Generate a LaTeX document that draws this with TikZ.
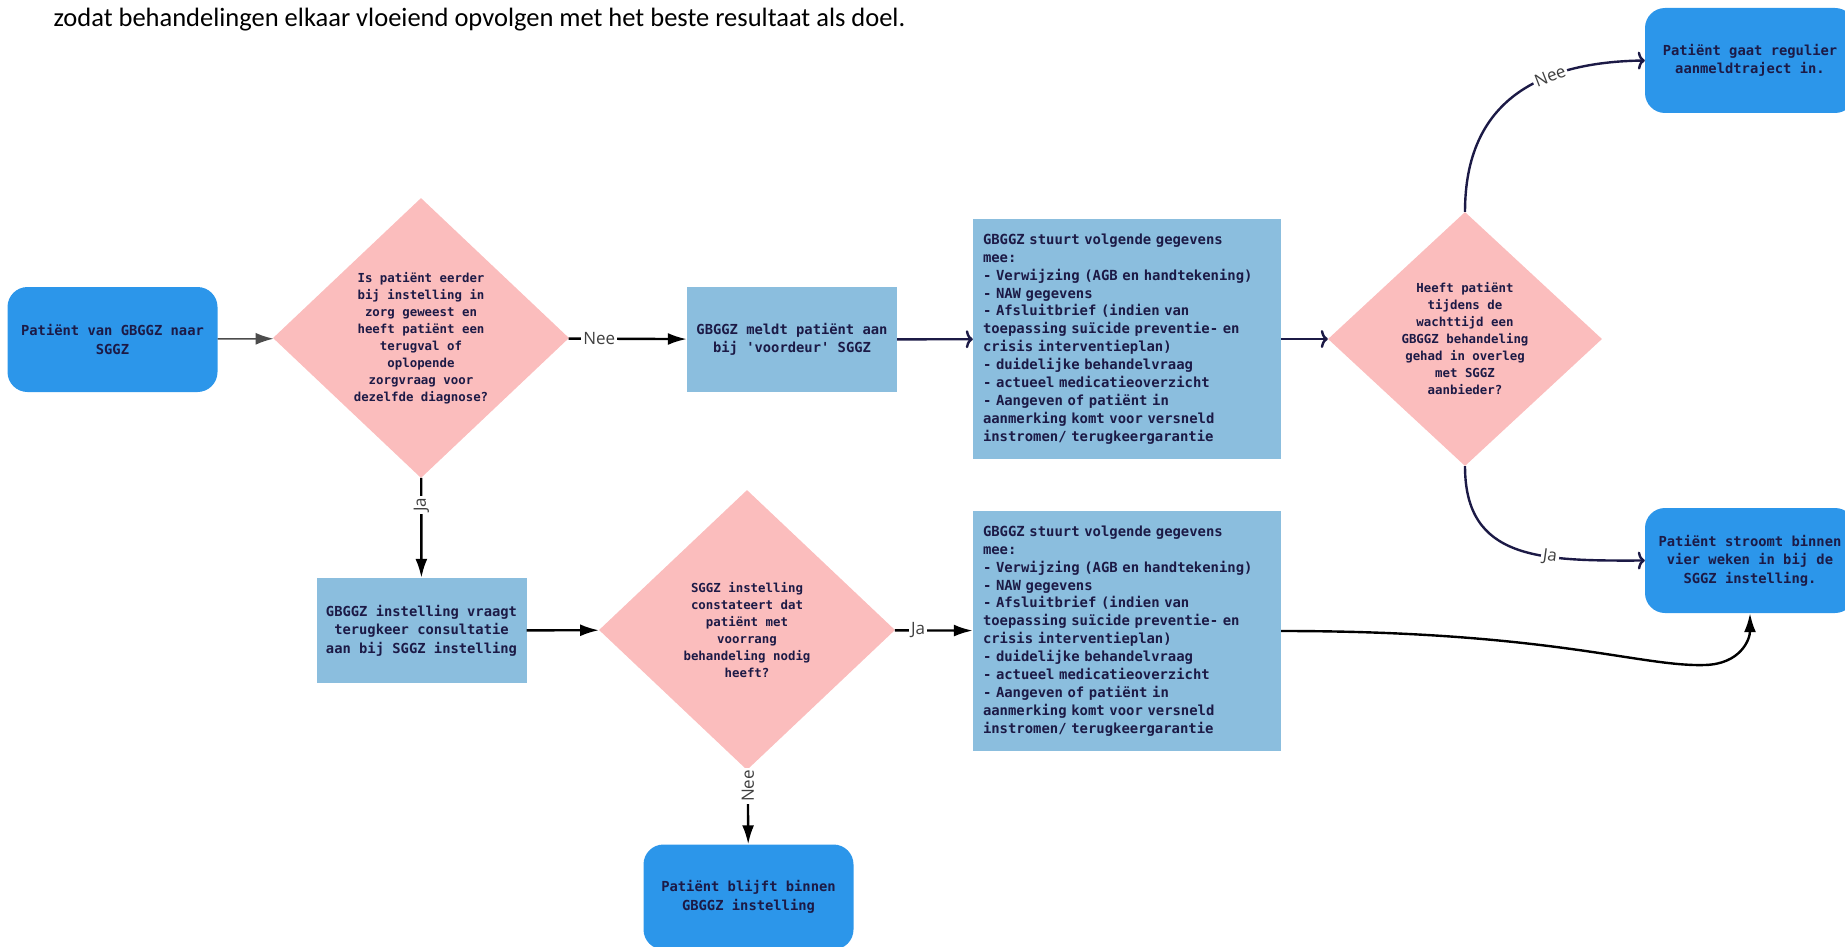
\documentclass[tikz,border=0pt]{standalone}
\usepackage{fontspec}
\setmainfont{Carlito}
\setmonofont{DejaVu Sans Mono}
\newfontfamily\labelfont{Open Sans}
\usetikzlibrary{shapes.geometric, arrows.meta}
\definecolor{navy}{RGB}{28,26,70}
\definecolor{boxblue}{RGB}{44,150,234}
\definecolor{lightblue}{RGB}{139,190,222}
\definecolor{pinkish}{RGB}{251,189,189}
\definecolor{labelgray}{RGB}{64,64,64}
\newcommand{\gegevenslijst}{GBGGZ stuurt volgende gegevens\\mee:\\- Verwijzing (AGB en handtekening)\\- NAW gegevens\\- Afsluitbrief (indien van\\toepassing suïcide preventie- en\\crisis interventieplan)\\- duidelijke behandelvraag\\- actueel medicatieoverzicht\\- Aangeven of patiënt in\\aanmerking komt voor versneld\\instromen/ terugkeergarantie}
\tikzset{
  boxtext/.style={font=\fontsize{13.8}{18.5}\selectfont\ttfamily\bfseries, text=navy},
  endbox/.style={rectangle, rounded corners=20pt, fill=boxblue, boxtext, align=center, minimum width=210pt, minimum height=105pt, inner sep=0pt},
  stepbox/.style={rectangle, fill=lightblue, boxtext, align=center, minimum width=210pt, minimum height=105pt, inner sep=0pt},
  listbox/.style={rectangle, fill=lightblue, boxtext, font=\fontsize{13.9}{17.9}\selectfont\ttfamily\bfseries, align=left, text width=288pt, inner xsep=10pt, minimum height=240pt},
  choice/.style={diamond, fill=pinkish, inner sep=0pt, align=center, text=navy, font=\fontsize{12.4}{17}\selectfont\ttfamily\bfseries},
  lbl/.style={fill=white, inner sep=2pt, text=labelgray, font=\fontsize{17}{17}\selectfont\labelfont},
  blackarrow/.style={-{Latex[length=19pt,width=12pt]}, line width=2.4pt, black},
  navyarrow/.style={-{To[length=7pt,width=18pt]}, line width=2.4pt, navy},
}
\begin{document}
\begin{tikzpicture}[x=1pt, y=-1pt]
\useasboundingbox (0,0) rectangle (1845,947);
\node[anchor=base west, font=\fontsize{26.5}{26.5}\selectfont] (intro) at (50,27) {zodat behandelingen elkaar vloeiend opvolgen met het beste resultaat als doel.};
\node[endbox] (a) at (112.5,339.5) {Patiënt van GBGGZ naar\\SGGZ};
\node[choice, minimum width=296pt, minimum height=280pt] (d1) at (421,338) {Is patiënt eerder\\bij instelling in\\zorg geweest en\\heeft patiënt een\\terugval of\\oplopende\\zorgvraag voor\\dezelfde diagnose?};
\node[stepbox] (b) at (792,339.5) {GBGGZ meldt patiënt aan\\bij \textquotesingle voordeur\textquotesingle{} SGGZ};
\node[listbox] (c) at (1127,339) {\gegevenslijst};
\node[choice, minimum width=274pt, minimum height=254pt] (d2) at (1465,339) {Heeft patiënt\\tijdens de\\wachttijd een\\GBGGZ behandeling\\gehad in overleg\\met SGGZ\\aanbieder?};
\node[endbox] (e) at (1750,60.5) {Patiënt gaat regulier\\aanmeldtraject in.};
\node[endbox] (f) at (1750,560.5) {Patiënt stroomt binnen\\vier weken in bij de\\SGGZ instelling.};
\node[stepbox] (g) at (421.5,630.5) {GBGGZ instelling vraagt\\terugkeer consultatie\\aan bij SGGZ instelling};
\node[choice, minimum width=296pt, minimum height=280pt] (d3) at (747,630) {SGGZ instelling\\constateert dat\\patiënt met\\voorrang\\behandeling nodig\\heeft?};
\node[listbox] (h) at (1127,631) {\gegevenslijst};
\node[endbox] (i) at (748.5,897) {Patiënt blijft binnen\\GBGGZ instelling};
\draw[-{Latex[length=18pt,width=12pt]}, line width=1.5pt, black!70] (a) -- (d1);
\draw[blackarrow] (d1) -- node[lbl, pos=0.26]{Nee} (b);
\draw[navyarrow] (b) -- (c);
\draw[navyarrow] (c) -- (d2);
\draw[navyarrow] (d2.north) .. controls (1465,100) and (1540,62) .. node[lbl, sloped, pos=0.66]{Nee} (e.west);
\draw[navyarrow] (d2.south) .. controls (1465,560) and (1540,561) .. node[lbl, sloped, pos=0.66]{Ja} (f.west);
\draw[blackarrow] (d1) -- node[lbl, pos=0.27, rotate=90]{Ja} (g);
\draw[blackarrow] (g) -- (d3);
\draw[blackarrow] (d3) -- node[lbl, pos=0.3]{Ja} (h);
\draw[blackarrow] (d3) -- node[lbl, pos=0.22, rotate=90]{Nee} (i);
\draw[blackarrow] (h.east) .. controls (1550,631) and (1640,667) .. (1705,665) .. controls (1740,664) and (1750,640) .. (f.south);
\end{tikzpicture}
\end{document}
